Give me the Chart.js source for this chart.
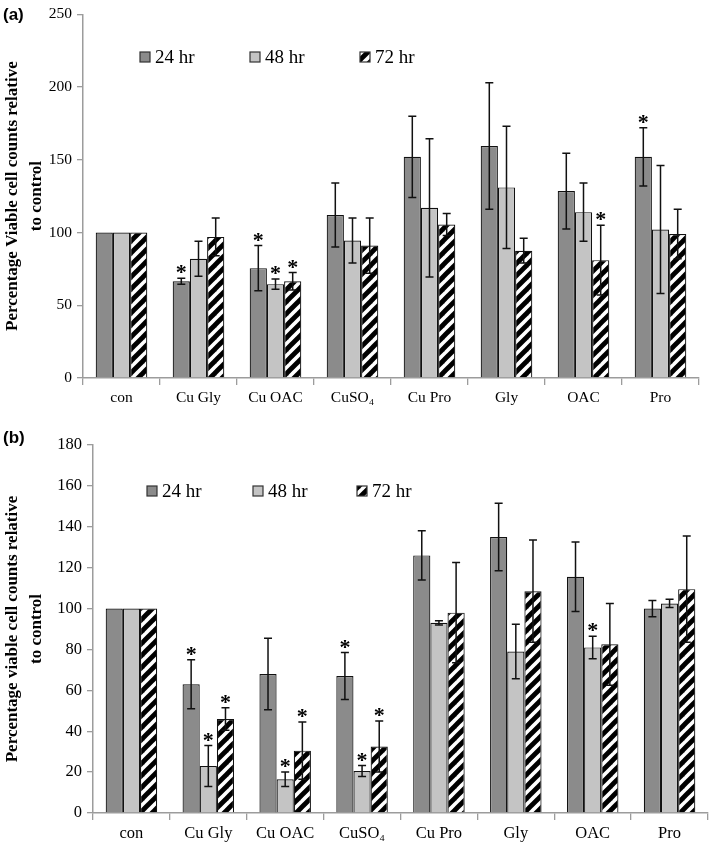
<!DOCTYPE html>
<html>
<head>
<meta charset="utf-8">
<script src="https://cdn.jsdelivr.net/npm/chart.js@4.4.1/dist/chart.umd.min.js"></script>
<style>
  body { margin: 0; background: #fff; }
  .panel { position: absolute; left: 0; width: 709px; height: 425px; }
  .tag { position: absolute; left: 3px; font: bold 17px "Liberation Sans", Arial, sans-serif; color: #000; }
</style>
</head>
<body>
<div class="panel" style="top:0"><canvas id="chart-a" width="709" height="425"></canvas></div>
<div class="panel" style="top:425px"><canvas id="chart-b" width="709" height="425"></canvas></div>
<div class="tag" style="top:5px">(a)</div>
<div class="tag" style="top:428px">(b)</div>
<script>
const categories = ['con', 'Cu Gly', 'Cu OAC', 'CuSO\u2084', 'Cu Pro', 'Gly', 'OAC', 'Pro'];
const seriesNames = ['24 hr', '48 hr', '72 hr'];

// panel (a)
const a24 = [100, 66.5, 75.5, 112, 152, 159.5, 128.5, 152];
const a24Err = [0, 2, 15.5, 22, 28, 43.5, 26, 20];
const a48 = [100, 82, 64.5, 94.5, 117, 131, 114, 102];
const a48Err = [0, 12, 3.5, 15.5, 47.5, 42, 20, 44];
const a72 = [100, 97, 66.5, 91, 105.5, 87.5, 81, 99];
const a72Err = [0, 13, 6, 19, 7.5, 8.5, 24, 17];
const a24Star = [0, 1, 1, 0, 0, 0, 0, 1];
const a48Star = [0, 0, 1, 0, 0, 0, 0, 0];
const a72Star = [0, 0, 1, 0, 0, 0, 1, 0];
const aTicks = [0, 50, 100, 150, 200, 250];

// panel (b)
const b24 = [100, 63, 68, 67, 126, 135, 115.5, 100];
const b24Err = [0, 12, 17.5, 11.5, 12, 16.5, 17, 4];
const b48 = [100, 23, 16.5, 20.5, 93, 79, 81, 102.5];
const b48Err = [0, 10, 3.5, 2.7, 1, 13.3, 5.5, 2];
const b72 = [100, 46, 30.5, 32.5, 98, 108.5, 82.5, 109.5];
const b72Err = [0, 5.5, 14, 12.5, 24.5, 25, 20, 26];
const b24Star = [0, 1, 0, 1, 0, 0, 0, 0];
const b48Star = [0, 1, 1, 1, 0, 0, 1, 0];
const b72Star = [0, 1, 1, 1, 0, 0, 0, 0];
const bTicks = [0, 20, 40, 60, 80, 100, 120, 140, 160, 180];

const SERIF = '"Liberation Serif", "Times New Roman", serif';
const AXIS_GREY = '#9c9c9c';

function makeHatch() {
    const t = 12;
    const c = document.createElement('canvas');
    c.width = t;
    c.height = t;
    const g = c.getContext('2d');
    g.fillStyle = '#fff';
    g.fillRect(0, 0, t, t);
    g.strokeStyle = '#000';
    g.lineWidth = 4.8;
    [0, t, 2 * t].forEach(k => { // lines x + y = k
        g.beginPath();
        g.moveTo(k - t - 2, t + 2);
        g.lineTo(k + 2, -2);
        g.stroke();
    });
    return g.createPattern(c, 'repeat');
}

const hatch = makeHatch();

// error bars and significance stars, drawn through the chart's own scales
const errorBarPlugin = {
    id: 'errorBars',
    afterDatasetsDraw(chart) {
        const ctx = chart.ctx;
        const y = chart.scales.y;
        ctx.save();
        chart.data.datasets.forEach((ds, i) => {
            const meta = chart.getDatasetMeta(i);
            meta.data.forEach((bar, j) => {
                const v = ds.data[j];
                const e = ds.errors[j];
                const top = y.getPixelForValue(v + e);
                if (e > 0) {
                    const bot = y.getPixelForValue(v - e);
                    ctx.strokeStyle = '#111';
                    ctx.lineWidth = 1.5;
                    ctx.beginPath();
                    ctx.moveTo(bar.x, top);
                    ctx.lineTo(bar.x, bot);
                    ctx.moveTo(bar.x - 4, top);
                    ctx.lineTo(bar.x + 4, top);
                    ctx.moveTo(bar.x - 4, bot);
                    ctx.lineTo(bar.x + 4, bot);
                    ctx.stroke();
                }
                if (ds.stars[j]) {
                    ctx.fillStyle = '#000';
                    ctx.font = 'bold 22px ' + SERIF;
                    ctx.textAlign = 'center';
                    ctx.textBaseline = 'alphabetic';
                    ctx.fillText('*', bar.x, top + 1);
                }
            });
        });
        ctx.restore();
    }
};

// legend sits inside the plot area like the original
const innerLegendPlugin = {
    id: 'innerLegend',
    afterDraw(chart, args, opts) {
        const ctx = chart.ctx;
        ctx.save();
        ctx.font = '19px ' + SERIF;
        ctx.textBaseline = 'middle';
        ctx.textAlign = 'left';
        chart.data.datasets.forEach((ds, i) => {
            const bx = opts.xs[i];
            ctx.fillStyle = ds.backgroundColor;
            ctx.fillRect(bx, opts.y - 5, 10, 10);
            ctx.strokeStyle = '#333';
            ctx.lineWidth = 1.2;
            ctx.strokeRect(bx, opts.y - 5, 10, 10);
            ctx.fillStyle = '#000';
            ctx.fillText(ds.label, bx + 15, opts.y + 1);
        });
        ctx.restore();
    }
};

function buildChart(id, cfg) {
    const datasets = [
        { label: seriesNames[0], data: cfg.s24, errors: cfg.e24, stars: cfg.st24, backgroundColor: '#8b8b8b' },
        { label: seriesNames[1], data: cfg.s48, errors: cfg.e48, stars: cfg.st48, backgroundColor: '#c4c4c4' },
        { label: seriesNames[2], data: cfg.s72, errors: cfg.e72, stars: cfg.st72, backgroundColor: hatch }
    ];
    datasets.forEach(ds => {
        ds.borderColor = '#111';
        ds.borderWidth = 1.2;
        ds.categoryPercentage = 0.67;
        ds.barPercentage = 1.0;
    });

    return new Chart(document.getElementById(id), {
        type: 'bar',
        data: { labels: categories, datasets: datasets },
        plugins: [errorBarPlugin, innerLegendPlugin],
        options: {
            responsive: false,
            animation: false,
            events: [],
            layout: { padding: cfg.padding },
            plugins: {
                legend: { display: false },
                tooltip: { enabled: false },
                innerLegend: cfg.legend
            },
            scales: {
                x: {
                    grid: { display: true, drawOnChartArea: false, offset: true, tickLength: 7, color: AXIS_GREY, lineWidth: 1.3 },
                    border: { color: AXIS_GREY, width: 1.5 },
                    ticks: { color: '#000', padding: 4, maxRotation: 0, autoSkip: false, font: { family: SERIF, size: cfg.fontSize } },
                    afterFit: s => { s.height = cfg.xHeight; }
                },
                y: {
                    min: 0,
                    max: cfg.ticks[cfg.ticks.length - 1],
                    afterBuildTicks: s => { s.ticks = cfg.ticks.map(v => ({ value: v })); },
                    grid: { display: true, drawOnChartArea: false, tickLength: 6, color: AXIS_GREY, lineWidth: 1.3 },
                    border: { color: AXIS_GREY, width: 1.5 },
                    ticks: { color: '#000', padding: 5, font: { family: SERIF, size: cfg.fontSize } },
                    title: {
                        display: true,
                        text: cfg.yTitle,
                        color: '#000',
                        padding: { top: 0, bottom: 0 },
                        font: { family: SERIF, size: 17, weight: 'bold', lineHeight: 1.45 }
                    },
                    afterFit: s => { s.width = cfg.yWidth; }
                }
            }
        }
    });
}

buildChart('chart-a', {
    s24: a24, e24: a24Err, st24: a24Star,
    s48: a48, e48: a48Err, st48: a48Star,
    s72: a72, e72: a72Err, st72: a72Star,
    ticks: aTicks,
    fontSize: 15.5,
    yWidth: 83,
    xHeight: 40,
    padding: { top: 10, right: 10, bottom: 7, left: 0 },
    yTitle: ['Percentage Viable cell counts relative', 'to control'],
    legend: { xs: [140, 250, 360], y: 57 }
});

buildChart('chart-b', {
    s24: b24, e24: b24Err, st24: b24Star,
    s48: b48, e48: b48Err, st48: b48Star,
    s72: b72, e72: b72Err, st72: b72Star,
    ticks: bTicks,
    fontSize: 16.5,
    yWidth: 93,
    xHeight: 37,
    padding: { top: 20, right: 1, bottom: 0, left: 0 },
    yTitle: ['Percentage viable cell counts relative', 'to control'],
    legend: { xs: [147, 253, 357], y: 66 }
});
</script>
</body>
</html>
